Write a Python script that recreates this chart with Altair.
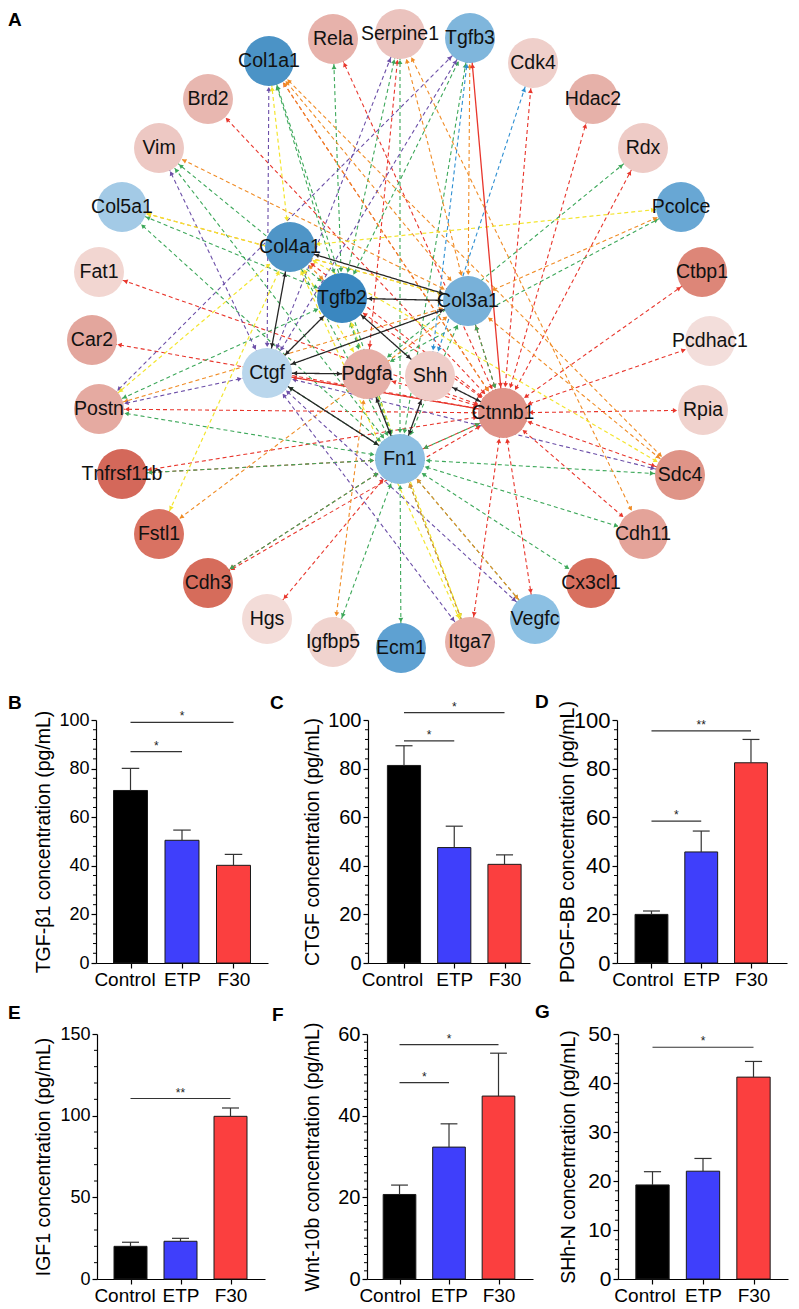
import math
import altair as alt
import pandas as pd

FONT = "Liberation Sans"

# ---------------- Panel A : interaction network ----------------
node_names = ["Col1a1", "Rela", "Serpine1", "Tgfb3", "Cdk4", "Hdac2", "Rdx", "Pcolce",
              "Ctbp1", "Pcdhac1", "Rpia", "Sdc4", "Cdh11", "Cx3cl1", "Vegfc", "Itga7",
              "Ecm1", "Igfbp5", "Hgs", "Cdh3", "Fstl1", "Tnfrsf11b", "Postn", "Car2",
              "Fat1", "Col5a1", "Vim", "Brd2", "Col4a1", "Tgfb2", "Col3a1", "Ctgf",
              "Pdgfa", "Shh", "Ctnnb1", "Fn1"]
node_x = [269, 333, 400, 470, 533, 593, 643, 681, 702, 710, 703, 680, 643, 591, 535, 470,
          401, 333, 267, 208, 159, 122, 99, 92, 99, 122, 159, 208, 290, 342, 468, 267,
          367, 430, 503, 400]
node_y = [60, 38, 33, 37, 62, 98, 147, 206, 271, 340, 409, 474, 533, 582, 618, 641,
          647, 641, 618, 582, 533, 473, 408, 339, 271, 206, 147, 98, 246, 297, 300, 372,
          373, 375, 412, 458]
node_fill = ["#4b93c6", "#e7b2ab", "#ebc3be", "#7fb6dc", "#efcfca", "#e6b1a9", "#eecbc6", "#68a7d4",
             "#dd8678", "#f3dedb", "#f0d2cd", "#df9487", "#e4a399", "#d8705f", "#8cc0e3", "#e8b0a8",
             "#5ea1d2", "#f0d3ce", "#f3dcd8", "#d66c5b", "#d97262", "#d4685a", "#e5aaa1", "#e3a69d",
             "#f2d6d1", "#a3cae6", "#edc8c3", "#e8b7b0", "#4f95c7", "#3a87c0", "#78b1d9", "#b9d6ec",
             "#e6aea6", "#efcdc8", "#df9287", "#8dbfe2"]

red_links_ctnnb1 = ["Brd2", "Rela", "Cdk4", "Hdac2", "Rdx", "Ctbp1", "Pcdhac1", "Rpia",
                    "Sdc4", "Cdh11", "Vegfc", "Itga7", "Car2", "Postn", "Fat1", "Tnfrsf11b",
                    "Cdh3", "Col1a1", "Col4a1", "Tgfb2", "Col3a1", "Pdgfa", "Fn1"]
red_links_other = [("Fn1", "Hgs"), ("Fn1", "Cdh3"), ("Serpine1", "Pdgfa"), ("Fn1", "Tnfrsf11b")]
red_solid_links = [("Ctnnb1", "Tgfb3"), ("Ctnnb1", "Ctgf")]
green_links_fn1 = ["Col1a1", "Serpine1", "Tgfb3", "Sdc4", "Cdh11", "Cx3cl1", "Vegfc", "Itga7",
                   "Ecm1", "Igfbp5", "Cdh3", "Tnfrsf11b", "Postn", "Col5a1", "Vim", "Col4a1",
                   "Tgfb2", "Col3a1", "Ctnnb1", "Ctgf"]
green_links_other = [("Tgfb2", "Rela"), ("Tgfb2", "Serpine1"), ("Tgfb2", "Tgfb3"), ("Tgfb2", "Col1a1"),
                     ("Tgfb2", "Postn"), ("Tgfb2", "Col5a1"), ("Tgfb2", "Vim"), ("Tgfb2", "Pdgfa"),
                     ("Pdgfa", "Rdx"), ("Pdgfa", "Pcolce"), ("Ctnnb1", "Col3a1")]
orange_links = [("Col3a1", "Pcolce"), ("Col3a1", "Tgfb3"), ("Col3a1", "Serpine1"), ("Col3a1", "Col1a1"),
                ("Col3a1", "Vim"), ("Col3a1", "Postn"), ("Col3a1", "Sdc4"), ("Col3a1", "Fstl1"),
                ("Col3a1", "Col5a1"), ("Fn1", "Vegfc"), ("Fn1", "Itga7"), ("Pdgfa", "Igfbp5"),
                ("Ctnnb1", "Col1a1"), ("Serpine1", "Cdh11"), ("Col1a1", "Sdc4"), ("Tgfb2", "Col4a1")]
purple_links = [("Ctgf", "Col1a1"), ("Ctgf", "Vim"), ("Ctgf", "Postn"), ("Ctgf", "Itga7"),
                ("Ctgf", "Vegfc"), ("Ctgf", "Sdc4"), ("Ctgf", "Serpine1"), ("Ctgf", "Tgfb3"),
                ("Postn", "Tgfb3")]
yellow_links = [("Col4a1", "Col1a1"), ("Col4a1", "Pcolce"), ("Col3a1", "Col5a1"), ("Col4a1", "Postn"),
                ("Col4a1", "Fstl1"), ("Col4a1", "Sdc4"), ("Tgfb2", "Itga7"), ("Col4a1", "Pdgfa"),
                ("Col4a1", "Itga7")]
blue_links = [("Shh", "Cdk4"), ("Shh", "Tgfb3")]
black_links = [("Col4a1", "Ctgf"), ("Col4a1", "Col3a1"), ("Tgfb2", "Col3a1"), ("Tgfb2", "Ctgf"),
               ("Tgfb2", "Shh"), ("Col3a1", "Ctgf"), ("Ctgf", "Pdgfa"), ("Ctgf", "Fn1"),
               ("Pdgfa", "Fn1"), ("Shh", "Fn1"), ("Shh", "Ctnnb1")]

pos = {n: (x, y) for n, x, y in zip(node_names, node_x, node_y)}
edge_list = []
def add_links(pairs, color, dash, width):
    for a, b in pairs:
        edge_list.append((a, b, color, dash, width))

add_links([("Ctnnb1", t) for t in red_links_ctnnb1], "#e8362c", "dash", 1.1)
add_links(red_links_other, "#e8362c", "dash", 1.1)
add_links([("Fn1", t) for t in green_links_fn1], "#3da85a", "dash", 1.1)
add_links(green_links_other, "#3da85a", "dash", 1.1)
add_links(orange_links, "#f08c26", "dash", 1.1)
add_links(purple_links, "#6c4fa8", "dash", 1.1)
add_links(yellow_links, "#f3e52f", "dash", 1.2)
add_links(blue_links, "#2e8fd2", "dash", 1.1)
add_links(red_solid_links, "#e8362c", "solid", 1.3)
add_links(black_links, "#262626", "solid", 1.3)

R_NODE = 25
e_rows, a_rows = [], []
for a, b, col, dash, wd in edge_list:
    x1, y1 = pos[a]
    x2, y2 = pos[b]
    L = math.hypot(x2 - x1, y2 - y1)
    ux, uy = (x2 - x1) / L, (y2 - y1) / L
    e_rows.append({"x": x1, "y": y1, "x2": x2, "y2": y2, "col": col, "dash": dash, "w": wd})
    ang = (math.degrees(math.atan2(ux, -uy)) + 360) % 360
    off = R_NODE + 3
    a_rows.append({"x": x2 - ux * off, "y": y2 - uy * off, "ang": ang, "col": col})
    a_rows.append({"x": x1 + ux * off, "y": y1 + uy * off, "ang": (ang + 180) % 360, "col": col})
edges_df = pd.DataFrame(e_rows)
arrows_df = pd.DataFrame(a_rows)
nodes_df = pd.DataFrame({"name": node_names, "x": node_x, "y": node_y, "fill": node_fill})

# layout constants (pixels)
TOP_EXT = 40          # reserved space above the first bar row
H1, H2 = 243, 245     # plot heights of the two bar rows
BOT1, TOP2 = 33, 36   # extents below row 1 / above row 2
NET_W, NET_H = 783, 710 - TOP_EXT

nx = alt.Scale(domain=[8, 8 + NET_W], nice=False, zero=False)
ny = alt.Scale(domain=[8, 8 + NET_H], nice=False, zero=False, reverse=True)

edges_layer = alt.Chart(edges_df).mark_rule().encode(
    x=alt.X("x:Q", scale=nx, axis=None), y=alt.Y("y:Q", scale=ny, axis=None),
    x2="x2:Q", y2="y2:Q",
    color=alt.Color("col:N", scale=None),
    strokeWidth=alt.StrokeWidth("w:Q", scale=None),
    strokeDash=alt.StrokeDash("dash:N", scale=alt.Scale(domain=["dash", "solid"], range=[[4, 3], [1, 0]]), legend=None),
)
nodes_layer = alt.Chart(nodes_df).mark_circle(size=2500, opacity=1).encode(
    x=alt.X("x:Q", scale=nx, axis=None), y=alt.Y("y:Q", scale=ny, axis=None),
    color=alt.Color("fill:N", scale=None),
)
arrows_layer = alt.Chart(arrows_df).mark_point(shape="triangle-up", filled=True, size=24, opacity=1).encode(
    x=alt.X("x:Q", scale=nx, axis=None), y=alt.Y("y:Q", scale=ny, axis=None),
    angle=alt.Angle("ang:Q", scale=None),
    color=alt.Color("col:N", scale=None),
)
labels_layer = alt.Chart(nodes_df).mark_text(font=FONT, fontSize=19.5, color="#111111").encode(
    x=alt.X("x:Q", scale=nx, axis=None), y=alt.Y("y:Q", scale=ny, axis=None),
    text="name:N",
)
one = pd.DataFrame({"k": [0]})
letter_a = alt.Chart(one).mark_text(font=FONT, fontSize=19, fontWeight="bold", align="left",
                                     baseline="alphabetic", color="black").encode(
    x=alt.value(0), y=alt.value(17), text=alt.value("A"))
network = alt.layer(edges_layer, nodes_layer, arrows_layer, labels_layer, letter_a).properties(
    width=NET_W, height=NET_H)

# ---------------- Panels B-G : ELISA bar charts ----------------
groups = ["Control", "ETP", "F30"]
group_colors = ["#000000", "#3f3ffb", "#fb3f3f"]

tgfb1_mean = [71.0, 50.5, 40.2]
tgfb1_err = [9.1, 4.2, 4.5]
ctgf_mean = [81.3, 47.5, 40.6]
ctgf_err = [8.1, 8.8, 3.9]
pdgfbb_mean = [20.0, 45.7, 82.4]
pdgfbb_err = [1.4, 8.6, 9.6]
igf1_mean = [20.0, 23.1, 99.6]
igf1_err = [2.5, 1.8, 5.1]
wnt10b_mean = [20.7, 32.3, 44.8]
wnt10b_err = [2.3, 5.7, 10.5]
shhn_mean = [19.2, 22.0, 41.2]
shhn_err = [2.7, 2.6, 3.2]

# significance brackets: (from group, to group, level, label)
tgfb1_sig = [(0, 2, 99.0, "*"), (0, 1, 87.0, "*")]
ctgf_sig = [(0, 2, 103.0, "*"), (0, 1, 91.4, "*")]
pdgfbb_sig = [(0, 2, 95.5, "**"), (0, 1, 58.4, "*")]
igf1_sig = [(0, 2, 110.5, "**")]
wnt10b_sig = [(0, 2, 57.4, "*"), (0, 1, 48.1, "*")]
shhn_sig = [(0, 2, 47.3, "*")]

HW = 0.33
CAP = 0.17


def bar_panel(letter, ytitle, means, errs, sigs, ymax, major, minor, w, h, lo, hi,
              tick_fs, title_off, letter_x, letter_y, ctrl_shift):
    d = pd.DataFrame({"g": groups, "i": [0, 1, 2], "m": means, "e": errs, "c": group_colors})
    d["top"] = d["m"] + d["e"]
    d["b0"] = d["i"] - HW
    d["b1"] = d["i"] + HW
    d["k0"] = d["i"] - CAP
    d["k1"] = d["i"] + CAP
    s = pd.DataFrame(sigs, columns=["f", "t", "yv", "s"])
    s["mid"] = (s["f"] + s["t"]) / 2
    minor_vals = [v for v in range(0, ymax + 1, minor) if v % major != 0]
    mt = pd.DataFrame({"v": minor_vals})

    xs = alt.Scale(domain=[lo, hi], nice=False, zero=False)
    ys = alt.Scale(domain=[0, ymax], nice=False, zero=True)
    label_expr = "[" + ",".join("'%s'" % g for g in groups) + "][datum.value]"
    xax = alt.Axis(values=[0, 1, 2], labelExpr=label_expr, title=None, tickSize=5,
                   labelFontSize=19, labelPadding=2, labelOverlap=False, labelFlush=False,
                   labelOffset={"condition": {"test": "datum.value === 0", "value": ctrl_shift}, "value": 0},
                   grid=False, domainWidth=1.2, tickWidth=1.2, labelAngle=0)
    yax = alt.Axis(values=list(range(0, ymax + 1, major)), title=ytitle,
                   titleX=-title_off, titleY=h / 2, titleAngle=270, titleAlign="center",
                   titleBaseline="middle", titleFontSize=19.5, titleFontWeight="normal",
                   labelFontSize=tick_fs, tickSize=5, labelPadding=2, grid=False,
                   labelOverlap=False, domainWidth=1.2, tickWidth=1.2)

    bars = alt.Chart(d).mark_bar(stroke="#1a1a1a", strokeWidth=1).encode(
        x=alt.X("b0:Q", scale=xs, axis=xax), x2="b1:Q",
        y=alt.Y("m:Q", scale=ys, axis=yax), y2=alt.datum(0),
        color=alt.Color("c:N", scale=None),
    )
    minor_ticks = alt.Chart(mt).mark_rule(color="black", strokeWidth=1).encode(
        y=alt.Y("v:Q", scale=ys), x=alt.value(-3), x2=alt.value(0))
    err_v = alt.Chart(d).mark_rule(color="#333333", strokeWidth=1.2).encode(
        x=alt.X("i:Q", scale=xs), y=alt.Y("m:Q", scale=ys), y2="top:Q")
    err_c = alt.Chart(d).mark_rule(color="#333333", strokeWidth=1.2).encode(
        x=alt.X("k0:Q", scale=xs), x2="k1:Q", y=alt.Y("top:Q", scale=ys))
    sig_l = alt.Chart(s).mark_rule(color="#333333", strokeWidth=1.2).encode(
        x=alt.X("f:Q", scale=xs), x2="t:Q", y=alt.Y("yv:Q", scale=ys))
    sig_t = alt.Chart(s).mark_text(font=FONT, fontSize=12, baseline="alphabetic", dy=-2,
                                   color="#222222").encode(
        x=alt.X("mid:Q", scale=xs), y=alt.Y("yv:Q", scale=ys), text="s:N")
    let = alt.Chart(one).mark_text(font=FONT, fontSize=19, fontWeight="bold", align="left",
                                   baseline="alphabetic", color="black").encode(
        x=alt.value(letter_x), y=alt.value(letter_y), text=alt.value(letter))
    return alt.layer(bars, minor_ticks, err_v, err_c, sig_l, sig_t, let).properties(width=w, height=h)


def spacer(w, h, top=None, bottom=None):
    if top is None:
        return alt.Chart(one).mark_point(opacity=0).encode(
            x=alt.value(0), y=alt.value(0)).properties(width=w, height=h)
    # a white guide line that fixes the vertical extent of the row
    return alt.Chart(one).mark_rule(color="white", strokeWidth=1).encode(
        x=alt.value(1), y=alt.value(-top), y2=alt.value(h + bottom)).properties(width=w, height=h)


pB = bar_panel("B", "TGF-β1 concentration (pg/mL)", tgfb1_mean, tgfb1_err, tgfb1_sig,
               100, 20, 4, 172, H1, -0.67, 2.67, 18, 53, -88, -11, -6)
pC = bar_panel("C", "CTGF concentration (pg/mL)", ctgf_mean, ctgf_err, ctgf_sig,
               100, 20, 4, 162, H1, -0.716, 2.507, 20, 56, -98, -11, -12)
pD = bar_panel("D", "PDGF-BB concentration (pg/mL)", pdgfbb_mean, pdgfbb_err, pdgfbb_sig,
               100, 20, 4, 170, H1, -0.693, 2.724, 22, 50, -82, -12, -9)
pE = bar_panel("E", "IGF1 concentration (pg/mL)", igf1_mean, igf1_err, igf1_sig,
               150, 50, 10, 168, H2, -0.67, 2.69, 18, 54, -89, -15, -6)
pF = bar_panel("F", "Wnt-10b concentration (pg/mL)", wnt10b_mean, wnt10b_err, wnt10b_sig,
               60, 20, 2, 166, H2, -0.657, 2.697, 20, 55, -95, -13, -10)
pG = bar_panel("G", "SHh-N concentration (pg/mL)", shhn_mean, shhn_err, shhn_sig,
               50, 10, 2, 170, H2, -0.683, 2.683, 21, 50, -83, -16, -8)

row1 = alt.HConcatChart(hconcat=[spacer(88, H1, TOP_EXT, BOT1), pB, spacer(100, H1), pC,
                                 spacer(87, H1), pD], spacing=0, bounds="flush")
row2 = alt.HConcatChart(hconcat=[spacer(89, H2, TOP2, 30), pE, spacer(102, H2), pF,
                                 spacer(85, H2), pG], spacing=0, bounds="flush")

chart = alt.VConcatChart(vconcat=[network, row1, row2], spacing=0, bounds="full",
                         padding=0).configure_view(strokeWidth=0).configure_axis(
    labelFont=FONT, titleFont=FONT, labelColor="black", titleColor="black",
    domainColor="black", tickColor="black")

chart.save("out.html", embed_options={"renderer": "svg", "actions": False})
